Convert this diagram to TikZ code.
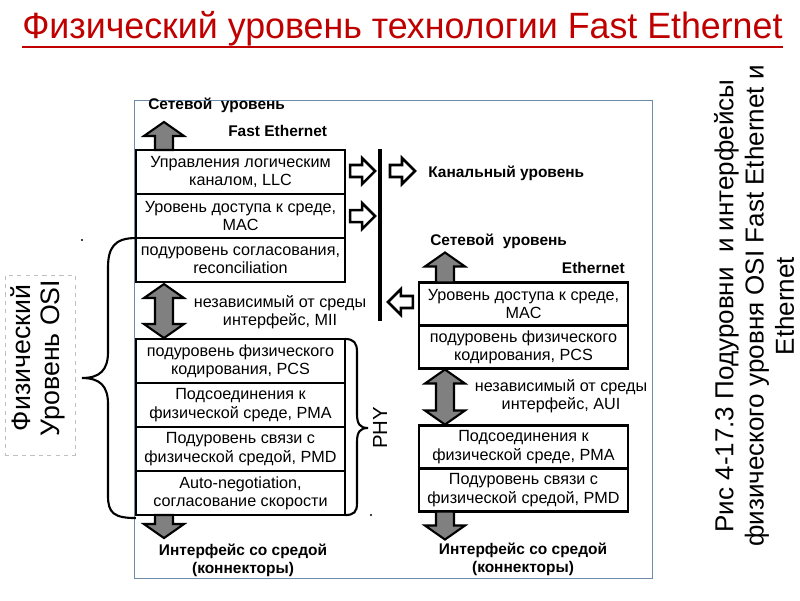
\documentclass[tikz,border=0pt]{standalone}
\usepackage{fontspec}
\setmainfont{Liberation Sans}
\usepackage{graphicx}
\usetikzlibrary{positioning, calc}
\definecolor{titlered}{RGB}{192,0,0}
\definecolor{framegray}{RGB}{110,140,170}
\definecolor{arrowgray}{RGB}{128,128,128}
\tikzset{
  % sublayer boxes
  layer/.style={rectangle, draw=black, line width=2pt, fill=white, outer sep=0pt, inner sep=1pt, minimum width=5.225cm, minimum height=#1, text centered, align=center, font=\fontsize{11.5}{13}\selectfont},
  layer/.default={1.1cm},
  note/.style={inner sep=0pt, align=center, font=\fontsize{11.5}{13}\selectfont},
  lvltext/.style={inner sep=0pt, align=center, font=\bfseries\fontsize{11}{13}\selectfont},
  titletext/.style={inner sep=0pt, text=titlered, font=\fontsize{26}{30}\selectfont},
  sidetext/.style={inner sep=0pt, rotate=90, align=center},
  % arrows
  blockarrow/.style={draw=black, line width=1.5pt, fill=arrowgray, line join=miter},
  hollowarrow/.style={draw=black, line width=1.8pt, fill=white, line join=miter},
  brace/.style={line width=1.5pt},
  pics/blockup/.style={code={\path[blockarrow] (-9,0) -- (-9,-#1+14) -- (-20,-#1+14) -- (0,-#1) -- (20,-#1+14) -- (9,-#1+14) -- (9,0) -- cycle;}},
  pics/blockdown/.style={code={\path[blockarrow] (-9,0) -- (-9,#1-14) -- (-20,#1-14) -- (0,#1) -- (20,#1-14) -- (9,#1-14) -- (9,0) -- cycle;}},
  pics/blockboth/.style={code={\path[blockarrow] (0,0) -- (20,14) -- (9,14) -- (9,#1-14) -- (20,#1-14) -- (0,#1) -- (-20,#1-14) -- (-9,#1-14) -- (-9,14) -- (-20,14) -- cycle;}},
  pics/hollow/.style={code={\path[hollowarrow] (0,-6) -- (12,-6) -- (12,-13) -- (25,0) -- (12,13) -- (12,6) -- (0,6) -- cycle;}},
}

\begin{document}
\begin{tikzpicture}[x=0.025cm, y=-0.025cm]
    \useasboundingbox[fill=white] (0,0) rectangle (800,600);

    % Title
    \node[titletext, anchor=base west] (title) at (22,38) {\resizebox{19cm}{\height}{Физический уровень технологии Fast Ethernet}};
    \draw[titlered, line width=1.5pt] ($(title.base west)+(0,9)$) -- ($(title.base east)+(0,9)$);

    % Frame of the figure
    \node[draw=framegray, line width=0.6pt, minimum width=12.95cm, minimum height=11.95cm, inner sep=0pt] (frame) at (393,339) {};

    % Fast Ethernet stack
    \node[layer] (llc) at (240.5,172) {Управления логическим\\каналом, LLC};
    \node[layer, below=0pt of llc] (mac) {Уровень доступа к среде,\\MAC};
    \node[layer, below=0pt of mac] (rec) {подуровень согласования,\\reconciliation};
    \node[layer] (pcs) at (240.5,361) {подуровень физического\\кодирования, PCS};
    \node[layer, below=0pt of pcs] (pma) {Подсоединения к\\физической среде, PMA};
    \node[layer, below=0pt of pma] (pmd) {Подуровень связи с\\физической средой, PMD};
    \node[layer, below=0pt of pmd] (auto) {Auto-negotiation,\\согласование скорости};

    \node[lvltext, anchor=west] (netl) at (148,105) {Сетевой~ уровень};
    \node[lvltext, anchor=west] (fast) at (228,131) {Fast Ethernet};
    \node[note] (mii) at (280,312) {независимый от среды\\интерфейс, MII};
    \node[lvltext] (mediuml) at (243,560) {Интерфейс со средой\\(коннекторы)};

    \pic at ($(llc.north west)+(28,0)$) {blockup=28};
    \pic at ($(rec.south west)+(28,2)$) {blockboth=54};
    \pic at ($(auto.south west)+(28,0)$) {blockdown=23};

    % Ethernet stack
    \node[layer=1.075cm] (rmac) at (523.5,304) {Уровень доступа к среде,\\MAC};
    \node[layer=1.075cm, below=0pt of rmac] (rpcs) {подуровень физического\\кодирования, PCS};
    \node[layer=1.075cm] (rpma) at (523.5,447) {Подсоединения к\\физической среде, PMA};
    \node[layer=1.075cm, below=0pt of rpma] (rpmd) {Подуровень связи с\\физической средой, PMD};

    \node[lvltext, anchor=west] (netr) at (430,241) {Сетевой~ уровень};
    \node[lvltext, anchor=east] (eth) at (625,268) {Ethernet};
    \node[note] (aui) at (561,396) {независимый от среды\\интерфейс, AUI};
    \node[lvltext] (mediumr) at (523,559) {Интерфейс со средой\\(коннекторы)};

    \pic at ($(rmac.north west)+(26,0)$) {blockup=30};
    \pic at ($(rpcs.south west)+(26,1)$) {blockboth=55};
    \pic at ($(rpmd.south west)+(26,0)$) {blockdown=28};

    % Data link level
    \coordinate (septop) at (380,149);
    \coordinate (sepbot) at (380,321);
    \draw[line width=2.2pt] (septop) -- (sepbot);
    \pic at ($(llc.east)+(5,-1)$) {hollow};
    \pic at ($(mac.east)+(5,0)$) {hollow};
    \pic at (390,171) {hollow};
    \node[lvltext, anchor=west] (dll) at (428,173) {Канальный уровень};
    \pic[xscale=-1] at ($(rmac.west)+(-6,-2)$) {hollow};

    % PHY brace
    \draw[brace] (pcs.north east) .. controls (354,339) and (357,343) .. (357,352) -- (357,414)
      .. controls (357,424) and (360,428) .. (368,428) .. controls (360,428) and (357,432) .. (357,442)
      -- (357,503) .. controls (357,512) and (354,515) .. (auto.south east);
    \node[sidetext, font=\fontsize{14.5}{16}\selectfont] (phy) at (380,428) {PHY};
    \fill (371,515) circle[radius=0.8pt];

    % OSI physical level brace
    \draw[brace] (rec.north west) .. controls (114,238) and (108,248) .. (108,268) -- (108,352)
      .. controls (108,370) and (100,378) .. (82,378) .. controls (100,378) and (108,386) .. (108,404)
      -- (108,496) .. controls (108,513) and (114,518) .. ($(auto.south west)+(0,3)$);
    \fill (82,240) circle[radius=0.8pt];
    \node[draw=black!25, dashed, line width=0.5pt, minimum width=1.75cm, minimum height=4.5cm, inner sep=0pt] (osibox) at (40,365) {};
    \node[sidetext, font=\fontsize{19}{21}\selectfont] (osi) at (38,358) {Физический\\Уровень OSI};

    % Caption
    \node[sidetext, font=\fontsize{18.5}{21.5}\selectfont] (caption) at (754,306) {Рис 4-17.3 Подуровни~ и интерфейсы\\физического уровня OSI Fast Ethernet и\\Ethernet};
\end{tikzpicture}
\end{document}
